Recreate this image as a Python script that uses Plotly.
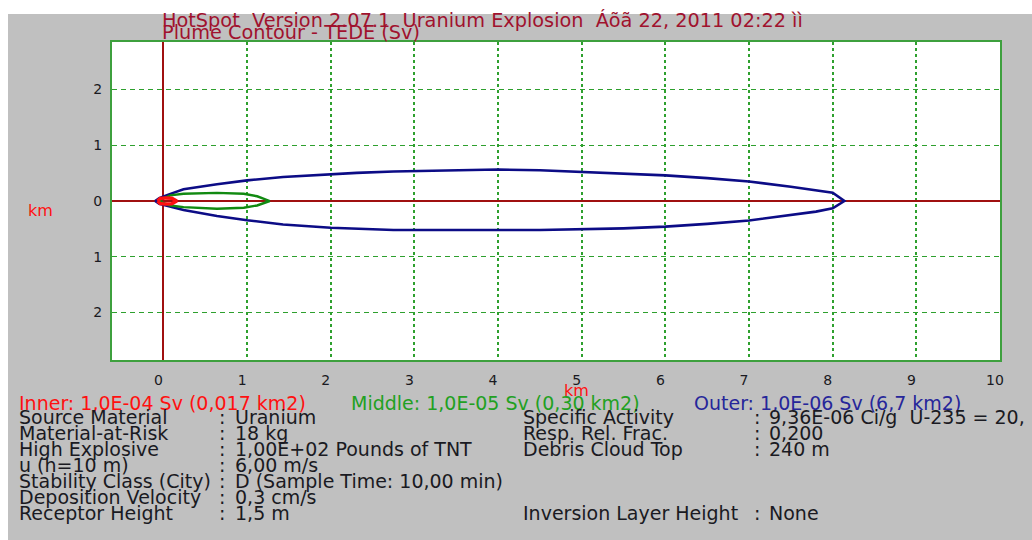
import plotly.graph_objects as go

# ---------------- data ----------------
outer_x = [-0.10, -0.05, 0.05, 0.24, 0.64, 1.00, 1.43, 2.00, 2.31, 2.75, 3.35, 4.00,
           4.50, 5.00, 5.50, 6.00, 6.50, 7.00, 7.50, 7.80, 8.00, 8.14,
           8.00, 7.80, 7.50, 7.00, 6.50, 6.00, 5.50, 5.00, 4.50, 4.00, 3.35, 2.75,
           2.00, 1.43, 1.00, 0.64, 0.24, 0.05, -0.05, -0.10]
outer_y = [0.00, 0.05, 0.11, 0.21, 0.30, 0.37, 0.43, 0.48, 0.505, 0.53, 0.55, 0.565,
           0.55, 0.52, 0.49, 0.46, 0.41, 0.35, 0.255, 0.20, 0.15, 0.00,
           -0.13, -0.19, -0.25, -0.35, -0.41, -0.46, -0.49, -0.51, -0.52, -0.52, -0.52, -0.52,
           -0.48, -0.42, -0.345, -0.27, -0.16, -0.09, -0.05, 0.00]

middle_x = [-0.06, 0.08, 0.24, 0.64, 0.96, 1.12, 1.27, 1.12, 0.96, 0.64, 0.24, 0.08, -0.06]
middle_y = [0.00, 0.10, 0.13, 0.145, 0.13, 0.085, 0.00, -0.08, -0.12, -0.14, -0.11, -0.08, 0.00]

inner_x = [-0.07, -0.04, 0.02, 0.10, 0.16, 0.10, 0.02, -0.04, -0.07]
inner_y = [0.00, 0.045, 0.055, 0.05, 0.00, -0.05, -0.055, -0.045, 0.00]

x_tick_vals = [0, 1, 2, 3, 4, 5, 6, 7, 8, 9, 10]
y_tick_vals = [-2, -1, 0, 1, 2]
y_tick_text = ["2", "1", "0", "1", "2"]

title_line1 = "HotSpot\u00a0 Version 2.07.1\u00a0 Uranium Explosion\u00a0 Áõã 22, 2011 02:22 ìì"
title_line2 = "Plume Contour - TEDE (Sv)"

legend_texts = ["Inner: 1,0E-04 Sv (0,017 km2)",
                "Middle: 1,0E-05 Sv (0,30 km2)",
                "Outer: 1,0E-06 Sv (6,7 km2)"]

left_labels = ["Source Material", "Material-at-Risk", "High Explosive", "u (h=10 m)",
               "Stability Class (City)", "Deposition Velocity", "Receptor Height"]
left_values = ["Uranium", "18 kg", "1,00E+02 Pounds of TNT", "6,00 m/s",
               "D (Sample Time: 10,00 min)", "0,3 cm/s", "1,5 m"]

right_labels = ["Specific Activity", "Resp. Rel. Frac.", "Debris Cloud Top", "Inversion Layer Height"]
right_values = ["9,36E-06 Ci/g\u00a0 U-235 = 20,", "0,200", "240 m", "None"]
right_rows = [0, 1, 2, 6]

# ---------------- styling / layout ----------------
W, H = 1032, 540
ML, MR, MT, MB = 112, 32, 42, 180
PW, PH = W - ML - MR, H - MT - MB
FONT = "DejaVu Sans"

NAVY = "#0c0c86"
GREEN = "#118a11"
RED = "#ff1010"
GRID = "#2ea02e"
AXRED = "#a01010"
TXT = "#1a1a22"
FS = 19


def px(xp):
    return (xp - ML) / PW


def py(yp):
    return (H - MB - yp) / PH


def ann(text, x, y, color, size, xanchor="left"):
    return dict(text=text, x=px(x), y=py(y), xref="paper", yref="paper",
                xanchor=xanchor, yanchor="middle", showarrow=False,
                font=dict(family=FONT, size=size, color=color))


fig = go.Figure()
fig.add_trace(go.Scatter(x=outer_x, y=outer_y, mode="lines", name=legend_texts[2],
                         line=dict(color=NAVY, width=2.6), hoverinfo="skip"))
fig.add_trace(go.Scatter(x=middle_x, y=middle_y, mode="lines", name=legend_texts[1],
                         line=dict(color=GREEN, width=2.4), hoverinfo="skip"))
fig.add_trace(go.Scatter(x=inner_x, y=inner_y, mode="lines", name=legend_texts[0],
                         line=dict(color=RED, width=3.4), hoverinfo="skip"))

annotations = []
annotations.append(ann(title_line1, 160, 20, "#a0122e", 19.3))
annotations.append(ann(title_line2, 160, 32.5, "#a0122e", 19.3))
annotations.append(ann("km", 40, 210, RED, 16, "center"))
annotations.append(ann("km", 576, 390.5, RED, 16, "center"))
annotations.append(ann(legend_texts[0], 17, 403, RED, FS))
annotations.append(ann(legend_texts[1], 349, 403, "#22a022", FS))
annotations.append(ann(legend_texts[2], 692, 403, "#26269a", FS))

row_y = [417, 433, 449, 465, 481, 497, 513]
for i, (lab, val) in enumerate(zip(left_labels, left_values)):
    annotations.append(ann(lab, 17, row_y[i], TXT, FS))
    annotations.append(ann(":", 217, row_y[i], TXT, FS))
    annotations.append(ann(val, 233, row_y[i], TXT, FS))
for r, lab, val in zip(right_rows, right_labels, right_values):
    annotations.append(ann(lab, 521, row_y[r], TXT, FS))
    annotations.append(ann(":", 752, row_y[r], TXT, FS))
    annotations.append(ann(val, 767, row_y[r], TXT, FS))

shapes = [
    # white strips at the top and left of the gray panel
    dict(type="rect", xref="paper", yref="paper", x0=px(0), x1=px(W), y0=py(14), y1=py(0),
         fillcolor="white", line=dict(width=0), layer="below"),
    dict(type="rect", xref="paper", yref="paper", x0=px(0), x1=px(8), y0=py(H), y1=py(0),
         fillcolor="white", line=dict(width=0), layer="below"),
]

fig.update_layout(
    width=W, height=H,
    margin=dict(l=ML, r=MR, t=MT, b=MB, pad=0),
    paper_bgcolor="#c0c0c0",
    plot_bgcolor="white",
    showlegend=False,
    annotations=annotations,
    shapes=shapes,
    xaxis=dict(range=[-0.615, 10.0], tickvals=x_tick_vals, showgrid=True,
               gridcolor=GRID, gridwidth=1.6, griddash="3px,3px",
               zeroline=True, zerolinecolor=AXRED, zerolinewidth=1.5,
               showline=True, mirror=True, linecolor="#3ea03e", linewidth=2,
               ticks="", ticklabelshift=-5, ticklabelstandoff=6,
               tickfont=dict(family=FONT, size=14, color=TXT), fixedrange=True),
    yaxis=dict(range=[-2.85, 2.85], tickvals=y_tick_vals, ticktext=y_tick_text,
               showgrid=True, gridcolor=GRID, gridwidth=1.4, griddash="5px,4px",
               zeroline=True, zerolinecolor=AXRED, zerolinewidth=1.5,
               showline=True, mirror=True, linecolor="#3ea03e", linewidth=2,
               ticks="", ticklabelstandoff=5,
               tickfont=dict(family=FONT, size=14, color=TXT), fixedrange=True),
)

fig.write_html("out.html", config={"displayModeBar": False},
               post_script="document.body.style.margin='0';document.body.style.overflow='hidden';")
